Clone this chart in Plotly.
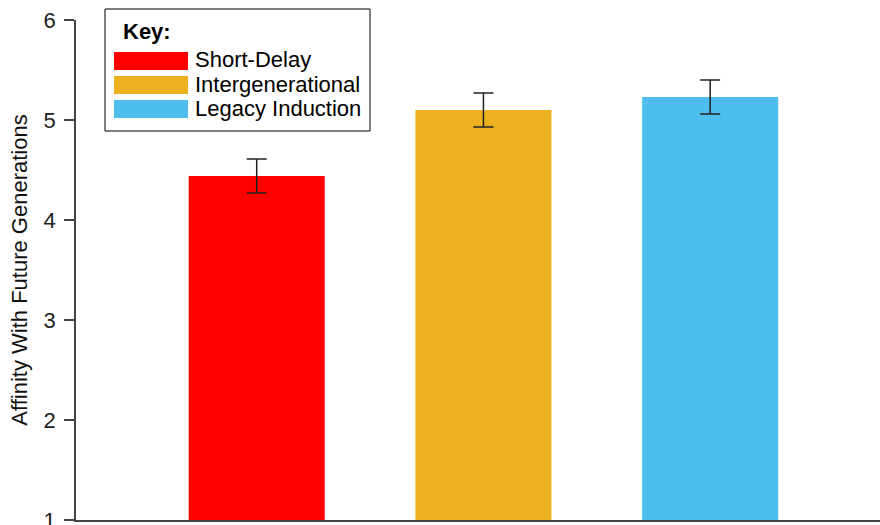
import plotly.graph_objects as go

# Condition means and standard errors
conditions = ["Short-Delay", "Intergenerational", "Legacy Induction"]
means = [4.44, 5.10, 5.23]
errors = [0.17, 0.17, 0.17]
colors = ["#FF0000", "#EDB120", "#4DBEEE"]
y_ticks = [1, 2, 3, 4, 5, 6]

FONT = "Liberation Sans, Arial, Helvetica, sans-serif"
TEXT_SIZE = 22

fig = go.Figure()
fig.add_trace(go.Bar(
    x=list(range(len(conditions))),
    y=means,
    base=0,
    width=0.6,
    marker=dict(color=colors, line=dict(width=0)),
    error_y=dict(type="data", array=errors, visible=True,
                 color="#222222", thickness=1.5, width=10),
    showlegend=False,
))

# Plot-area geometry in pixels (used to place the key box)
L, R, T, B = 76, 880, 20, 520
def px(x):
    return (x - L) / (R - L)
def py(y):
    return (B - y) / (B - T)

shapes = [dict(type="rect", xref="paper", yref="paper",
               x0=px(105), x1=px(370), y0=py(131), y1=py(9),
               line=dict(color="black", width=1), fillcolor="white", layer="above")]
annotations = [dict(text="<b>Key:</b>", xref="paper", yref="paper",
                    x=px(121), y=py(31), xanchor="left", yanchor="middle",
                    showarrow=False, font=dict(family=FONT, size=TEXT_SIZE, color="black"))]
for i, (name, col) in enumerate(zip(conditions, colors)):
    top = 52 + 24 * i
    shapes.append(dict(type="rect", xref="paper", yref="paper",
                       x0=px(114), x1=px(188), y0=py(top + 18), y1=py(top),
                       line=dict(width=0), fillcolor=col, layer="above"))
    annotations.append(dict(text=name, xref="paper", yref="paper",
                            x=px(193), y=py(top + 8), xanchor="left", yanchor="middle",
                            showarrow=False, font=dict(family=FONT, size=TEXT_SIZE, color="black")))

fig.update_layout(
    width=880, height=525,
    margin=dict(l=L, r=880 - R, t=T, b=525 - B, autoexpand=False),
    plot_bgcolor="white", paper_bgcolor="white",
    font=dict(family=FONT, size=TEXT_SIZE, color="#222222"),
    shapes=shapes, annotations=annotations,
    xaxis=dict(range=[-0.797, 2.749], showticklabels=False, ticks="",
               showgrid=False, zeroline=False, showline=True,
               linecolor="#444444", linewidth=2, automargin=False),
    yaxis=dict(range=[1, 6], tickvals=y_ticks, ticks="outside", ticklen=10,
               tickcolor="#444444", tickwidth=1.5, showgrid=False, zeroline=False,
               showline=True, linecolor="#444444", linewidth=1.5,
               ticklabeloverflow="allow", automargin=False, ticklabelstandoff=4,
               tickfont=dict(size=TEXT_SIZE, color="#222222"),
               title=dict(text="Affinity With Future Generations",
                          font=dict(size=TEXT_SIZE, color="#111111"), standoff=10)),
)

fig.write_html("out.html")
